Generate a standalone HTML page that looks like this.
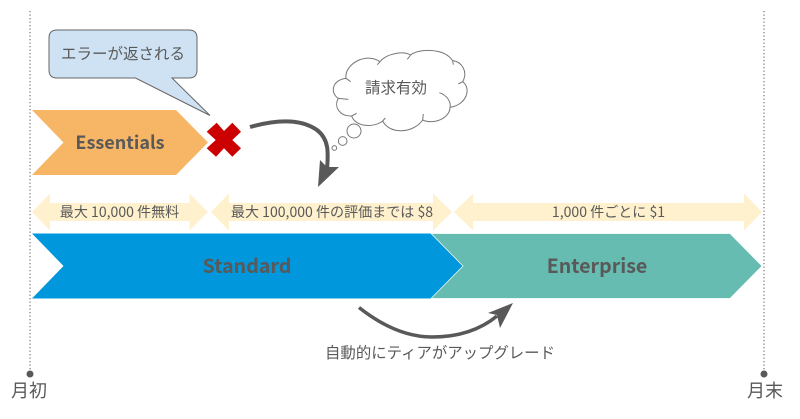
<!DOCTYPE html>
<html><head><meta charset="utf-8">
<style>
html,body{margin:0;padding:0;background:#fff;width:800px;height:419px;overflow:hidden}
svg{display:block}
text{font-family:"Liberation Sans","Noto Sans CJK JP",sans-serif;fill:#595959}
.n{font-family:"Noto Sans CJK JP","Liberation Sans",sans-serif}
</style></head><body>
<svg width="800" height="419" viewBox="0 0 800 419" xmlns="http://www.w3.org/2000/svg">
<line x1="30" y1="11" x2="30" y2="374" stroke="#808080" stroke-width="1.300" stroke-dasharray="1.300 2.200"/>
<line x1="764" y1="11" x2="764" y2="374" stroke="#808080" stroke-width="1.300" stroke-dasharray="1.300 2.200"/>
<circle cx="30" cy="374" r="3.500" fill="#595959"/>
<circle cx="764" cy="374" r="3.500" fill="#595959"/>

<polygon points="32,110 176,110 208,142.500 176,175 32,175 63.500,142.500" fill="#f6b666"/>
<polygon points="32,233.500 431,233.500 463,266 431,298.500 32,298.500 63.500,266" fill="#0097dc"/>
<polygon points="431,233.500 730,233.500 762,266 730,298.500 431,298.500 463,266" fill="#66bcb0" stroke="#fff" stroke-width="0.700"/>

<polygon points="32,212 50,193.500 50,203 189.500,203 189.500,193.500 208,212 189.500,230.500 189.500,221 50,221 50,230.500" fill="#fff1cd"/>
<polygon points="211,212 229,193.500 229,203 433,203 433,193.500 452,212 433,230.500 433,221 229,221 229,230.500" fill="#fff1cd"/>
<polygon points="454,212 473,193.500 473,203 744,203 744,193.500 762,212 744,230.500 744,221 473,221 473,230.500" fill="#fff1cd"/>

<path d="M57,30 H189 Q197,30 197,38 V70 Q197,78 189,78 H172 L210,115.500 L135.500,78 H57 Q49,78 49,70 V38 Q49,30 57,30 Z" fill="#cfe2f3" stroke="#666" stroke-width="1"/>

<polygon points="216.700,122.700 224,131 232.300,122.700 241,131.700 232.300,140 241,148.300 232.300,156.700 224,148.300 216,156.700 206.700,148.300 215.700,140 206.700,131.700" fill="#cc0000"/>

<g transform="translate(240,30) scale(0.33333)" fill="#fff" stroke="#777" stroke-width="3">
<path d="M318,145 C312,105 375,65 420,95 C440,70 490,62 512,75 C530,58 610,50 638,92 C665,95 685,125 668,155 C695,175 680,225 630,232 C630,265 580,285 548,270 C520,310 450,315 428,273 C400,295 345,290 335,258 C300,260 280,230 295,205 C270,190 275,150 318,145 Z"/>
<path d="M318,145 L332,155 M420,95 L412,104 M512,75 L502,88 M638,92 L640,104 M668,155 L655,162 M630,232 C634,215 620,195 598,188 M548,270 L550,252 M428,273 L436,264 M335,258 L350,250 M295,205 L325,208" fill="none"/>
<circle cx="342" cy="303" r="21"/>
<circle cx="308" cy="333" r="13"/>
<circle cx="283" cy="354" r="7"/>
</g>

<path d="M250,127 C275,120 300,118 317,130 C330,140 328,155 327,170" fill="none" stroke="#595959" stroke-width="4"/>
<polygon points="318,187 320,160 327,167 339,167" fill="#595959"/>
<path d="M359,307.500 C385,328 410,337 432,337 C458,337 480,330 497,316" fill="none" stroke="#595959" stroke-width="3.500"/>
<polygon points="513,303 488,313 497,315 500,328" fill="#595959"/>

<text x="123" y="59" font-size="15.500" text-anchor="middle">エラーが返される</text>
<text x="396" y="93" font-size="15.500" text-anchor="middle">請求有効</text>
<text class="n" x="120" y="149" font-size="18" font-weight="700" text-anchor="middle">Essentials</text>
<text class="n" x="119.500" y="217" font-size="14.050" text-anchor="middle">最大 10,000 件無料</text>
<text class="n" x="332" y="217" font-size="14.050" text-anchor="middle">最大 100,000 件の評価までは $8</text>
<text class="n" x="608.500" y="217" font-size="14.050" text-anchor="middle">1,000 件ごとに $1</text>
<text class="n" x="247" y="273" font-size="19.600" font-weight="700" text-anchor="middle">Standard</text>
<text class="n" x="597" y="273" font-size="19.600" font-weight="700" text-anchor="middle">Enterprise</text>
<text x="440" y="358" font-size="15.400" text-anchor="middle">自動的にティアがアップグレード</text>
<text x="29" y="397" font-size="18" text-anchor="middle">月初</text>
<text x="765" y="397" font-size="18" text-anchor="middle">月末</text>
</svg>
</body></html>
